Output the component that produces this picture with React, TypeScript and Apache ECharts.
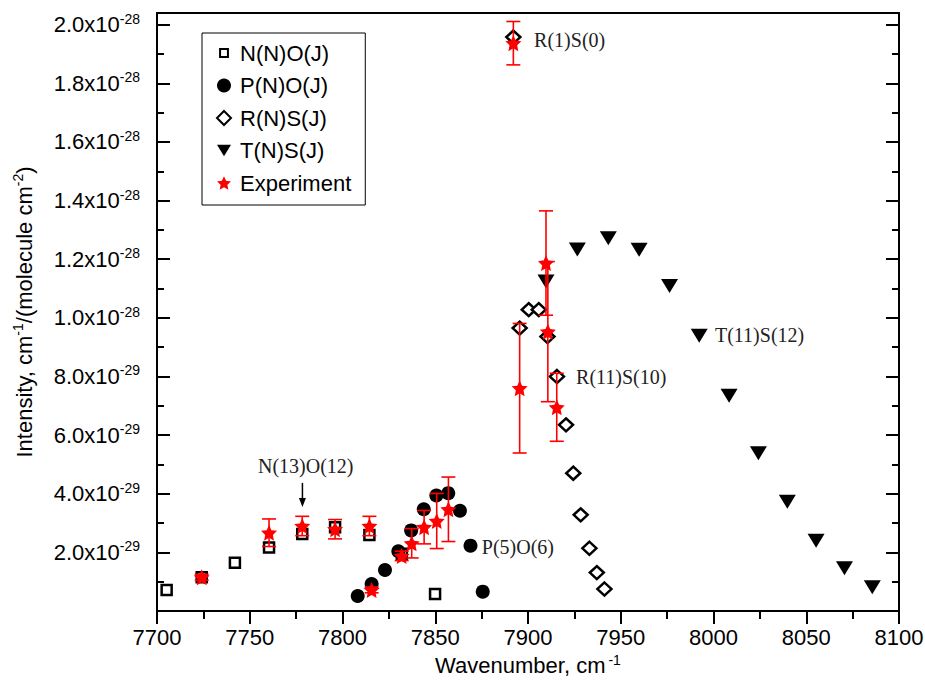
import React, { useEffect, useRef } from "react";
import * as echarts from "echarts";

// Intensities are in units of 1e-29 cm^-1/(molecule cm^-2); wavenumbers in cm^-1.
const nBranchX = [7705.2, 7724.1, 7742.0, 7760.4, 7778.3, 7796.0, 7814.5, 7832.0, 7849.9];
const nBranchY = [0.72, 1.15, 1.65, 2.17, 2.63, 2.86, 2.59, 1.95, 0.58];

const pBranchX = [7808.2, 7815.7, 7822.9, 7830.1, 7837.0, 7843.8, 7850.6, 7857.0, 7863.3, 7869.0, 7875.6];
const pBranchY = [0.51, 0.92, 1.40, 2.04, 2.75, 3.47, 3.94, 4.02, 3.42, 2.23, 0.66];

const rBranchX = [7892.1, 7895.5, 7900.4, 7905.8, 7910.5, 7915.6, 7920.5, 7924.4, 7928.4, 7933.1, 7937.1, 7941.2];
const rBranchY = [19.58, 9.65, 10.28, 10.28, 9.36, 8.0, 6.35, 4.70, 3.28, 2.14, 1.31, 0.75];

const tBranchX = [7909.7, 7926.6, 7943.3, 7959.9, 7976.3, 7992.3, 8008.4, 8024.2, 8039.8, 8055.3, 8070.6, 8085.6];
const tBranchY = [11.24, 12.33, 12.72, 12.32, 11.09, 9.39, 7.34, 5.38, 3.73, 2.40, 1.46, 0.81];

const expX = [7724.1, 7760.4, 7778.3, 7796.0, 7814.5, 7815.7, 7831.9, 7837.3, 7844.0, 7850.8, 7857.1, 7892.1, 7895.5, 7909.7, 7910.7, 7915.5];
const expY = [1.15, 2.67, 2.90, 2.79, 2.90, 0.72, 1.88, 2.31, 2.86, 3.07, 3.47, 19.37, 7.60, 11.87, 9.53, 6.95];
const expErr = [0.1, 0.47, 0.33, 0.33, 0.33, 0.1, 0.16, 0.5, 0.57, 0.94, 1.1, 0.74, 2.21, 1.78, 2.39, 1.16];

const xMin = 7700;
const xMax = 8100;
const xInterval = 50;
const yMin = 0;
const yMax = 20.4;
const yMajorTicks = [0, 2, 4, 6, 8, 10, 12, 14, 16, 18, 20];
const yLabelTicks = [2, 4, 6, 8, 10, 12, 14, 16, 18, 20];
const yMinorTicks = [1, 3, 5, 7, 9, 11, 13, 15, 17, 19];

const seriesNames = ["N(N)O(J)", "P(N)O(J)", "R(N)S(J)", "T(N)S(J)", "Experiment"];

const annotations = [
  { text: "R(1)S(0)", x: 7903.3, y: 19.49, align: "left" },
  { text: "R(11)S(10)", x: 7925.9, y: 7.97, align: "left" },
  { text: "T(11)S(12)", x: 8000.8, y: 9.42, align: "left" },
  { text: "P(5)O(6)", x: 7875.1, y: 2.19, align: "left" },
  { text: "N(13)O(12)", x: 7780.2, y: 4.95, align: "center" },
];
const arrowFrom = [7778.4, 4.37];
const arrowTo = [7778.4, 3.55];

const STAR =
  "path://M50,0 L64.11,30.58 L97.55,34.55 L72.83,57.42 L79.39,90.45 L50,74 L20.61,90.45 L27.17,57.42 L2.45,34.55 L35.89,30.58 Z";
const SMALL_SQUARE_ICON = "path://M0,0 M16,16 M3.5,3.5 L12.5,3.5 L12.5,12.5 L3.5,12.5 Z";
const DOWN_TRIANGLE_ICON = "path://M0,0 M16,16 M0,1.5 L16,1.5 L8,14.5 Z";

const SANS = "'Liberation Sans', Arial, Helvetica, sans-serif";
const SERIF = "'Liberation Serif', 'Times New Roman', serif";

const zip = (xs: number[], ys: number[]) => xs.map((x, i) => [x, ys[i]]);

const richLabel = {
  m: { fontSize: 22, fontFamily: SANS, color: "#000", lineHeight: 26 },
  s: { fontSize: 14, fontFamily: SANS, color: "#000", lineHeight: 14, verticalAlign: "top" },
  sp: { fontSize: 14, fontFamily: SANS, color: "#000", lineHeight: 14, verticalAlign: "top", padding: [0, 0, 0, 3] },
};

function buildOption(): any {
  const axisLine = { show: true, onZero: false, lineStyle: { color: "#000", width: 2 } };
  return {
    animation: false,
    backgroundColor: "#fff",
    textStyle: { fontFamily: SANS },
    grid: { left: 157, right: 26, top: 13, bottom: 71, containLabel: false, outerBoundsMode: "none" },
    legend: {
      orient: "vertical",
      left: 202,
      top: 33,
      padding: [9, 14, 11, 14],
      itemWidth: 14,
      itemHeight: 14,
      itemGap: 10.5,
      borderColor: "#000",
      borderWidth: 1,
      selectedMode: false,
      textStyle: { fontSize: 22, fontFamily: SANS, color: "#000", lineHeight: 22, padding: [0, 0, 0, 4] },
      data: [
        { name: seriesNames[0], icon: SMALL_SQUARE_ICON },
        { name: seriesNames[1] },
        { name: seriesNames[2] },
        { name: seriesNames[3], icon: DOWN_TRIANGLE_ICON },
        { name: seriesNames[4], icon: STAR },
      ],
    },
    xAxis: [
      {
        type: "value",
        min: xMin,
        max: xMax,
        interval: xInterval,
        position: "bottom",
        axisLine,
        axisTick: { show: true, inside: false, length: 13, lineStyle: { color: "#000", width: 2 } },
        minorTick: { show: true, splitNumber: 2, length: 8, lineStyle: { color: "#000", width: 2 } },
        splitLine: { show: false },
        axisLabel: {
          show: true,
          margin: 15,
          fontSize: 22,
          fontFamily: SANS,
          color: "#000",
          formatter: (v: number) => String(v),
          alignMaxLabel: "center",
          alignMinLabel: "center",
        },
        name: "{m|Wavenumber, cm}{sp|-1}",
        nameLocation: "middle",
        nameGap: 40,
        nameTextStyle: { rich: richLabel },
      },
      {
        type: "value",
        min: xMin,
        max: xMax,
        position: "top",
        axisLine,
        axisTick: { show: false },
        axisLabel: { show: false },
        splitLine: { show: false },
      },
    ],
    yAxis: [
      {
        type: "value",
        min: yMin,
        max: yMax,
        position: "left",
        axisLine,
        axisTick: { show: true, inside: true, length: 13, customValues: yMajorTicks, lineStyle: { color: "#000", width: 2 } },
        splitLine: { show: false },
        axisLabel: {
          show: true,
          margin: 17,
          customValues: yLabelTicks,
          formatter: (v: number) => {
            if (v >= 10) return `{m|${(v / 10).toFixed(1)}x10}{s|-28}`;
            return `{m|${v.toFixed(1)}x10}{s|-29}`;
          },
          rich: richLabel,
        },
        name: "{m|Intensity, cm}{s|-1}{m|/(molecule cm}{s|-2}{m|)}",
        nameLocation: "middle",
        nameRotate: 90,
        nameGap: 120,
        nameTextStyle: { rich: richLabel },
      },
      {
        type: "value",
        min: yMin,
        max: yMax,
        position: "left",
        axisLine: { show: false },
        axisTick: { show: true, inside: true, length: 7, customValues: yMinorTicks, lineStyle: { color: "#000", width: 2 } },
        axisLabel: { show: false },
        splitLine: { show: false },
      },
      {
        type: "value",
        min: yMin,
        max: yMax,
        position: "right",
        axisLine,
        axisTick: { show: true, inside: true, length: 13, customValues: yMajorTicks, lineStyle: { color: "#000", width: 2 } },
        axisLabel: { show: false },
        splitLine: { show: false },
      },
      {
        type: "value",
        min: yMin,
        max: yMax,
        position: "right",
        axisLine: { show: false },
        axisTick: { show: true, inside: true, length: 7, customValues: yMinorTicks, lineStyle: { color: "#000", width: 2 } },
        axisLabel: { show: false },
        splitLine: { show: false },
      },
    ],
    series: [
      {
        name: seriesNames[0],
        type: "scatter",
        symbol: "rect",
        symbolSize: 10,
        itemStyle: { color: "#fff", borderColor: "#000", borderWidth: 2.5, opacity: 1 },
        data: zip(nBranchX, nBranchY),
        z: 2,
      },
      {
        name: seriesNames[1],
        type: "scatter",
        symbol: "circle",
        symbolSize: 14,
        itemStyle: { color: "#000", opacity: 1 },
        data: zip(pBranchX, pBranchY),
        z: 2,
      },
      {
        name: seriesNames[2],
        type: "scatter",
        symbol: "diamond",
        symbolSize: [14, 13],
        itemStyle: { color: "#fff", borderColor: "#000", borderWidth: 2.5, opacity: 1 },
        data: zip(rBranchX, rBranchY),
        z: 2,
      },
      {
        name: seriesNames[3],
        type: "scatter",
        symbol: "triangle",
        symbolRotate: 180,
        symbolSize: [17, 14],
        itemStyle: { color: "#000", opacity: 1 },
        data: zip(tBranchX, tBranchY),
        z: 2,
      },
      {
        name: "Experiment error",
        type: "custom",
        clip: false,
        z: 3,
        encode: { x: 0, y: [1, 2] },
        data: expX.map((x, i) => [x, expY[i] - expErr[i], expY[i] + expErr[i]]),
        renderItem: (_params: any, api: any) => {
          const x = api.value(0);
          const lo = api.coord([x, api.value(1)]);
          const hi = api.coord([x, api.value(2)]);
          const w = 7;
          const style = { stroke: "#ff0000", lineWidth: 1.6 };
          return {
            type: "group",
            children: [
              { type: "line", shape: { x1: lo[0], y1: lo[1], x2: hi[0], y2: hi[1] }, style },
              { type: "line", shape: { x1: lo[0] - w, y1: lo[1], x2: lo[0] + w, y2: lo[1] }, style },
              { type: "line", shape: { x1: hi[0] - w, y1: hi[1], x2: hi[0] + w, y2: hi[1] }, style },
            ],
          };
        },
      },
      {
        name: seriesNames[4],
        type: "scatter",
        symbol: STAR,
        symbolSize: 16,
        itemStyle: { color: "#ff0000", opacity: 1 },
        data: zip(expX, expY),
        z: 4,
      },
    ],
  };
}

export default function App() {
  const ref = useRef<HTMLDivElement>(null);
  useEffect(() => {
    const el = ref.current;
    if (!el) return;
    const chart = echarts.init(el, null, { renderer: "svg" });
    chart.setOption(buildOption());
    const toPx = (p: number[]) => chart.convertToPixel({ xAxisIndex: 0, yAxisIndex: 0 } as any, p) as number[];
    const graphics: any[] = annotations.map((a) => {
      const p = toPx([a.x, a.y]);
      return {
        type: "text",
        x: p[0],
        y: p[1],
        z: 10,
        style: {
          text: a.text,
          fontSize: 20,
          fontFamily: SERIF,
          fill: "#222",
          align: a.align,
          verticalAlign: "middle",
          textAlign: a.align,
          textVerticalAlign: "middle",
        },
      };
    });
    const a0 = toPx(arrowFrom);
    const a1 = toPx(arrowTo);
    graphics.push({
      type: "line",
      z: 10,
      shape: { x1: a0[0], y1: a0[1], x2: a1[0], y2: a1[1] - 6 },
      style: { stroke: "#000", lineWidth: 1.5 },
    });
    graphics.push({
      type: "polygon",
      z: 10,
      shape: { points: [[a1[0] - 3.5, a1[1] - 9], [a1[0] + 3.5, a1[1] - 9], [a1[0], a1[1]]] },
      style: { fill: "#000" },
    });
    chart.setOption({ graphic: graphics });
    return () => chart.dispose();
  }, []);
  return (
    <div
      ref={ref}
      style={{ position: "fixed", left: 0, top: 0, width: 925, height: 682, background: "#fff" }}
    />
  );
}
